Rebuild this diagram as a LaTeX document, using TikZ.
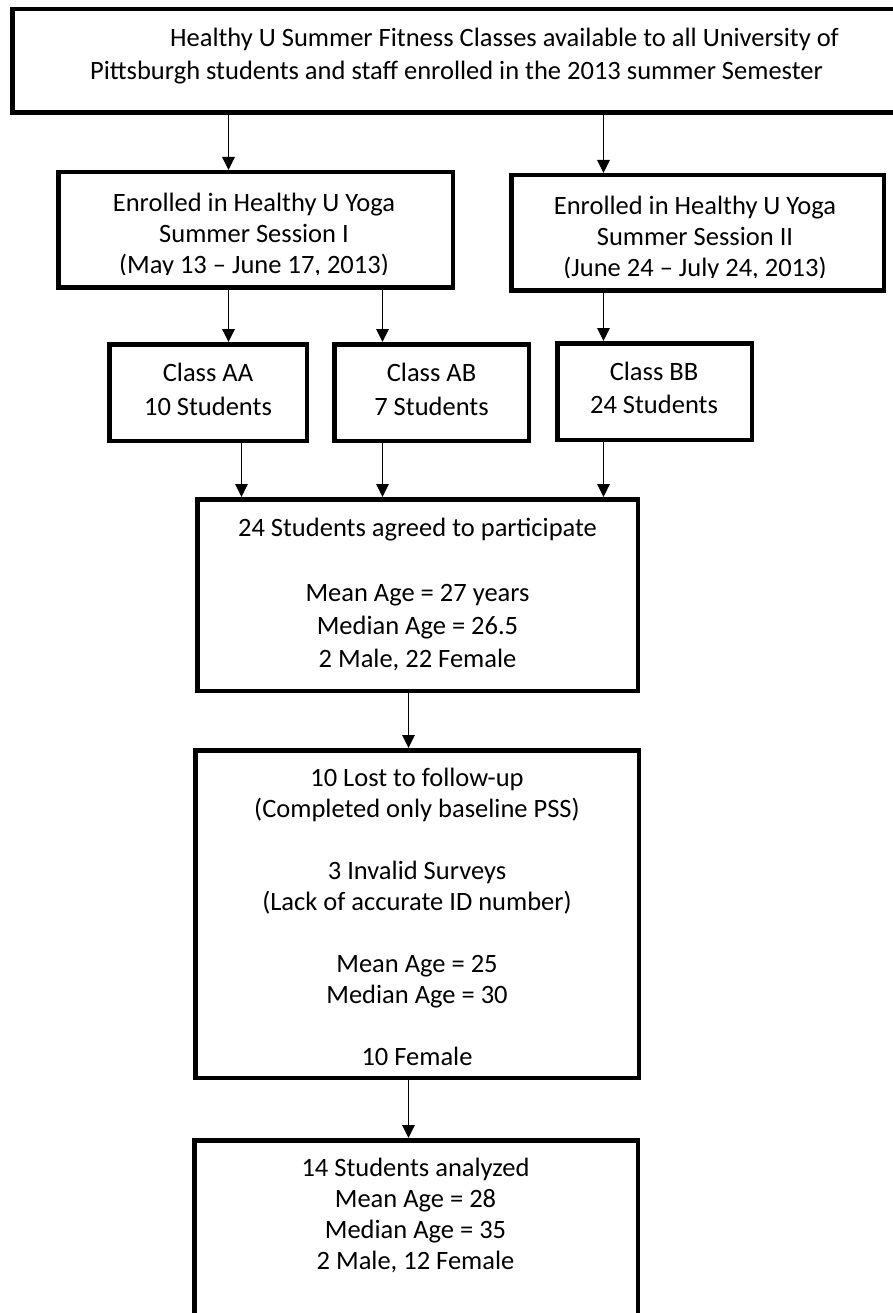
\documentclass[tikz,border=0pt]{standalone}
\usepackage{fontspec}
\setmainfont{Carlito}
\usetikzlibrary{arrows.meta}
\begin{document}
\begin{tikzpicture}[x=1pt,y=-1pt,
  box/.style={draw=black, line width=4.5pt, rectangle, inner sep=0pt},
  txt/.style={anchor=base, inner sep=0pt, font=\fontsize{26.5}{31}\selectfont},
  arr/.style={line width=1.5pt, -{Triangle[length=13pt,width=12.5pt]}}]
\fill[white] (0,0) rectangle (893,1313);
\useasboundingbox (0,0) rectangle (893,1313);

% boxes
\node[box, minimum width=890.5pt, minimum height=103.5pt] (top) at (457.5,61) {};
\node[box, minimum width=394.5pt, minimum height=115.5pt] (s1) at (255.5,230) {};
\node[box, minimum width=372.5pt, minimum height=115.5pt] (s2) at (697.5,233) {};
\node[box, minimum width=197.5pt, minimum height=96.5pt] (aa) at (208,392.5) {};
\node[box, minimum width=194.5pt, minimum height=96.5pt] (ab) at (431.5,392.5) {};
\node[box, minimum width=194.5pt, minimum height=96.5pt] (bb) at (654.5,391.5) {};
\node[box, minimum width=440.5pt, minimum height=191.5pt] (part) at (417.5,595) {};
\node[box, minimum width=443.5pt, minimum height=327.5pt] (lost) at (417,914) {};
\node[box, minimum width=443.5pt, minimum height=187.5pt] (anal) at (416,1234) {};

% texts
\node[txt] (t1) at (504.5,47) {Healthy U Summer Fitness Classes available to all University of};
\node[txt] (t2) at (456.5,79.5) {Pittsburgh students and staff enrolled in the 2013 summer Semester};

\node[txt] (s1a) at (254,212) {Enrolled in Healthy U Yoga};
\node[txt] (s1b) at (254,243) {Summer Session I};
\begin{scope}
  \clip (s1.north west) rectangle ([yshift=15.5pt]s1.south east);
  \node[txt] (s1c) at (254,274) {(May 13 – June 17, 2013)};
\end{scope}

\node[txt] (s2a) at (695,215) {Enrolled in Healthy U Yoga};
\node[txt] (s2b) at (695,246) {Summer Session II};
\begin{scope}
  \clip (s2.north west) rectangle ([yshift=15.5pt]s2.south east);
  \node[txt] (s2c) at (695,277) {(June 24 – July 24, 2013)};
\end{scope}

\node[txt] (aa1) at (208,381.5) {Class AA};
\node[txt] (aa2) at (208,415) {10 Students};
\node[txt] (ab1) at (431.5,381.5) {Class AB};
\node[txt] (ab2) at (431.5,415) {7 Students};
\node[txt] (bb1) at (654,380.5) {Class BB};
\node[txt] (bb2) at (654,413.5) {24 Students};

\node[txt] (p1) at (417.5,536) {24 Students agreed to participate};
\node[txt] (p2) at (417.5,601.5) {Mean Age = 27 years};
\node[txt] (p3) at (417.5,634.2) {Median Age = 26.5};
\node[txt] (p4) at (417.5,667) {2 Male, 22 Female};

\node[txt] (l1) at (417,786) {10 Lost to follow-up};
\node[txt] (l2) at (417,817) {(Completed only baseline PSS)};
\node[txt] (l3) at (417,879) {3 Invalid Surveys};
\node[txt] (l4) at (417,910) {(Lack of accurate ID number)};
\node[txt] (l5) at (417,972) {Mean Age = 25};
\node[txt] (l6) at (417,1003) {Median Age = 30};
\node[txt] (l7) at (417,1065) {10 Female};

\node[txt] (a1) at (415.5,1176) {14 Students analyzed};
\node[txt] (a2) at (415.5,1207) {Mean Age = 28};
\node[txt] (a3) at (415.5,1238) {Median Age = 35};
\node[txt] (a4) at (415.5,1269) {2 Male, 12 Female};

% arrow x positions
\coordinate (xA) at (228.5,0);
\coordinate (xB) at (382.5,0);
\coordinate (xC) at (603.5,0);
\coordinate (xD) at (241.5,0);
\coordinate (xE) at (408.5,0);

% connectors
\draw[arr] (top.south -| xA) -- (s1.north -| xA);
\draw[arr] (top.south -| xC) -- (s2.north -| xC);
\draw[arr] (s1.south -| xA) -- (aa.north -| xA);
\draw[arr] (s1.south -| xB) -- (ab.north -| xB);
\draw[arr] (s2.south -| xC) -- (bb.north -| xC);
\draw[arr] (aa.south -| xD) -- (part.north -| xD);
\draw[arr] (ab.south -| xB) -- (part.north -| xB);
\draw[arr] (bb.south -| xC) -- (part.north -| xC);
\draw[arr] (part.south -| xE) -- (lost.north -| xE);
\draw[arr] (lost.south -| xE) -- (anal.north -| xE);
\end{tikzpicture}
\end{document}
